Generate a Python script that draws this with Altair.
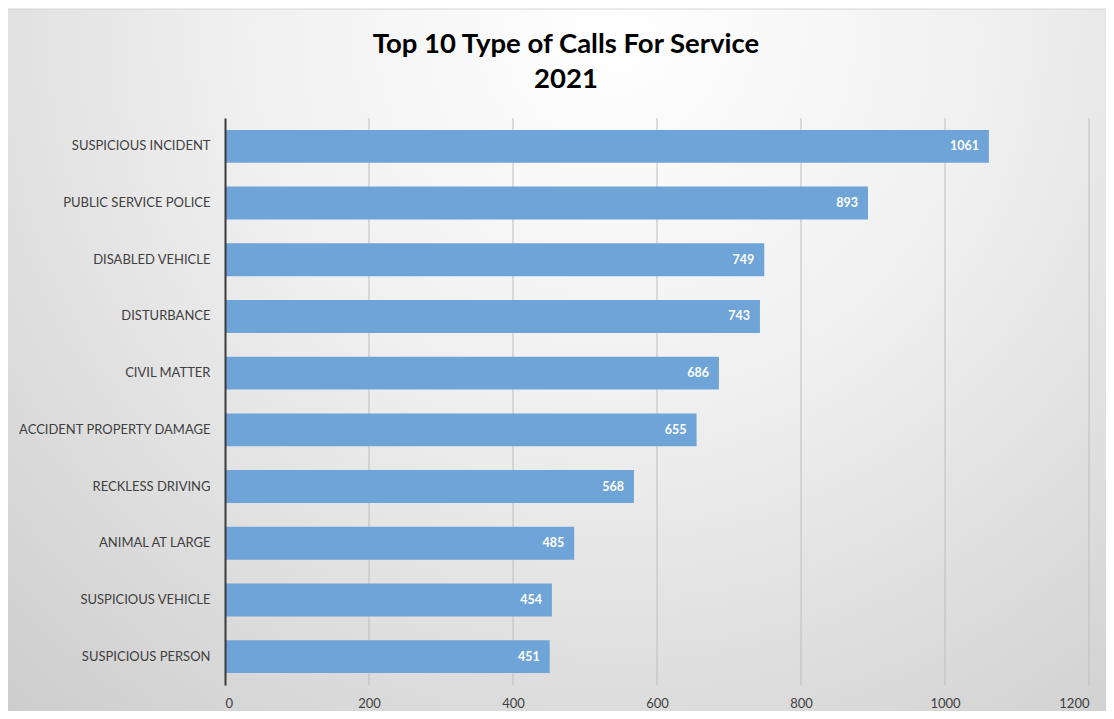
import altair as alt
import pandas as pd

categories = ["SUSPICIOUS INCIDENT", "PUBLIC SERVICE POLICE", "DISABLED VEHICLE",
              "DISTURBANCE", "CIVIL MATTER", "ACCIDENT PROPERTY DAMAGE",
              "RECKLESS DRIVING", "ANIMAL AT LARGE", "SUSPICIOUS VEHICLE",
              "SUSPICIOUS PERSON"]
counts = [1061, 893, 749, 743, 686, 655, 568, 485, 454, 451]
x_ticks = [0, 200, 400, 600, 800, 1000, 1200]

df = pd.DataFrame({"cat": categories, "n": counts})
ticks_df = pd.DataFrame({"t": x_ticks[1:]})

W, H = 864, 567
FONT = "Lato"

bg = alt.Chart(pd.DataFrame({"a": [0]})).mark_rect(
    fill=alt.Gradient(
        gradient="radial",
        x1=0.55, y1=0.2, x2=0.55, y2=0.2, r1=0.0, r2=0.85,
        stops=[alt.GradientStop(color="#ffffff", offset=0),
               alt.GradientStop(color="#f0f0f0", offset=0.4),
               alt.GradientStop(color="#cbcbcb", offset=1)],
    ),
    stroke="#d6d6d6", strokeWidth=1,
).encode(
    x=alt.value(-218), x2=alt.value(889),
    y=alt.value(-109), y2=alt.value(601),
)

x_scale = alt.Scale(domain=[0, 1200], nice=False)

grid = alt.Chart(ticks_df).mark_rule(color="#bdbdbd", strokeWidth=1).encode(
    x=alt.X("t:Q", scale=x_scale, title=None)
)

y_enc = alt.Y("cat:N", sort=categories, title=None,
              scale=alt.Scale(paddingInner=0.42, paddingOuter=0.21),
              axis=alt.Axis(domain=True, domainColor="#3a3a3a", domainWidth=2,
                            ticks=False, labelFont=FONT, labelFontSize=13,
                            labelColor="#404040", labelPadding=15, grid=False,
                            labelLimit=400, zindex=2))
x_enc = alt.X("n:Q", title=None, scale=x_scale,
              axis=alt.Axis(values=x_ticks, format="d", domain=False, ticks=False,
                            grid=False, labelFont=FONT, labelFontSize=13,
                            labelColor="#404040", labelPadding=12, zindex=2))

bars = alt.Chart(df).mark_bar(color="#6fa4d8").encode(x=x_enc, y=y_enc)
labels = alt.Chart(df).mark_text(
    align="right", baseline="middle", dx=-10, color="white",
    font=FONT, fontWeight="bold", fontSize=12.5,
).encode(x=alt.X("n:Q"), y=alt.Y("cat:N", sort=categories), text=alt.Text("n:Q"))

chart = alt.layer(bg, grid, bars, labels).properties(
    width=W, height=H,
    autosize=alt.AutoSizeParams(type="none"),
    padding={"left": 217, "top": 110, "right": 17, "bottom": 26},
    title=alt.Title(["Top 10 Type of Calls For Service", "2021"],
                    font=FONT, fontSize=27.5, fontWeight="bold", color="#000000",
                    anchor="middle", frame="group", dx=-91, offset=-85,
                    lineHeight=35),
).configure_view(stroke=None).configure(background="white")

chart.save("out.html", embed_options={"renderer": "svg", "actions": False})
